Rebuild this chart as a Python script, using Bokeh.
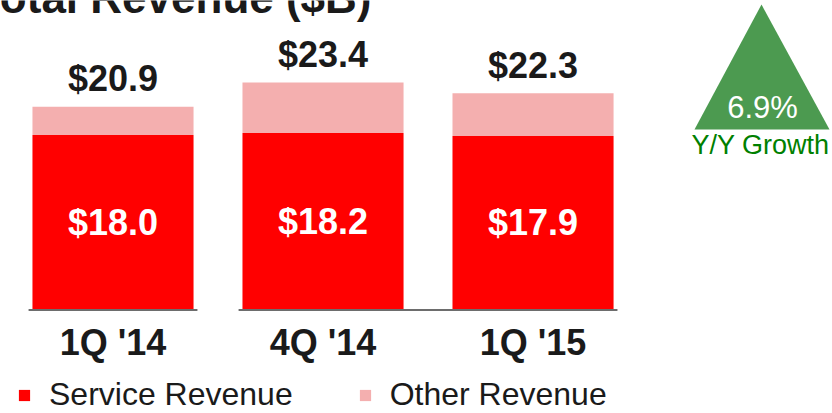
from bokeh.plotting import figure
from bokeh.models import (Range1d, Label, Legend, LegendItem, PolyAnnotation,
                          ColumnDataSource)
from bokeh.core.properties import value
from bokeh.embed import file_html
from bokeh.resources import INLINE

# ---- data ----
categories = ["1Q '14", "4Q '14", "1Q '15"]
service = [18.0, 18.2, 17.9]
other = [2.9, 5.2, 4.4]
total = [20.9, 23.4, 22.3]
series_names = ["Service Revenue", "Other Revenue"]
title_text = "Total Revenue ($B)"
growth_text = "6.9%"
growth_caption = "Y/Y Growth"

# ---- styles ----
RED = "#FF0000"
PINK = "#F4AFAF"
DARK = "#1a1a1a"
GREEN_FILL = "#4C9A50"
GREEN_TEXT = "#008000"
FONT = "Liberation Sans"

W, H = 832, 413
idx = list(range(len(categories)))
tops = [s + o for s, o in zip(service, other)]

src = ColumnDataSource(dict(
    x=idx, service=service, tops=tops, total=total, cat=categories,
    mid=[s / 2 for s in service],
    total_lbl=["$%.1f" % t for t in total],
    serv_lbl=["$%.1f" % s for s in service],
    zero=[0] * len(idx),
))

p = figure(width=W, height=H, output_backend="svg", toolbar_location=None,
           x_range=Range1d(-0.5357, 3.426), y_range=Range1d(-10.65, 31.84),
           x_axis_location=None, y_axis_location=None, min_border=0,
           outline_line_color=None, background_fill_color="white",
           border_fill_color="white")
p.xgrid.visible = False
p.ygrid.visible = False

bw = 0.767
r1 = p.vbar(x="x", bottom=0, top="service", width=bw, source=src,
            fill_color=RED, line_color=None)
r2 = p.vbar(x="x", bottom="service", top="tops", width=bw, source=src,
            fill_color=PINK, line_color=None)

# baseline segments
half = 0.402
p.segment(x0=[idx[0] - half, idx[1] - half], y0=[0, 0],
          x1=[idx[0] + half, idx[-1] + half], y1=[0, 0],
          line_color="#6d6d6d", line_width=2)

# total labels
p.text(x="x", y="total", text="total_lbl", source=src, y_offset=-28,
       text_align="center", text_baseline="alphabetic",
       text_font=value(FONT), text_font_style="bold",
       text_font_size="36px", text_color=DARK)
# service labels
p.text(x="x", y="mid", text="serv_lbl", source=src, y_offset=0,
       text_align="center", text_baseline="alphabetic",
       text_font=value(FONT), text_font_style="bold",
       text_font_size="36px", text_color="white")
# category labels
p.text(x="x", y="zero", text="cat", source=src, y_offset=33,
       text_align="center", text_baseline="alphabetic",
       text_font=value(FONT), text_font_style="bold",
       text_font_size="36px", text_color=DARK)

# title (cut off at the top like the original)
p.add_layout(Label(x=371, y=H + 3, x_units="screen", y_units="screen",
                   text=title_text, text_align="right",
                   text_baseline="alphabetic", text_font=FONT,
                   text_font_style="bold", text_font_size="44px",
                   text_color=DARK))

# growth triangle
p.add_layout(PolyAnnotation(xs=[694, 761, 829], ys=[H - 129, H - 4, H - 129],
                            xs_units="screen", ys_units="screen",
                            fill_color=GREEN_FILL, fill_alpha=1,
                            line_color=None))
p.add_layout(Label(x=762, y=H - 119 + 12, x_units="screen", y_units="screen",
                   text=growth_text, text_align="center",
                   text_baseline="alphabetic", text_font=FONT,
                   text_font_size="31px", text_color="white"))
p.add_layout(Label(x=760, y=H - 155 + 10.5, x_units="screen", y_units="screen",
                   text=growth_caption, text_align="center",
                   text_baseline="alphabetic", text_font=FONT,
                   text_font_size="27px", text_color=GREEN_TEXT))

legend = Legend(items=[LegendItem(label=series_names[0], renderers=[r1]),
                       LegendItem(label=series_names[1], renderers=[r2])],
                orientation="horizontal", location=(17, 0),
                border_line_color=None, background_fill_alpha=0,
                padding=0, margin=0, spacing=65,
                glyph_width=14, glyph_height=14, label_standoff=18,
                label_text_font=FONT, label_text_font_size="32px",
                label_text_color=DARK)
p.add_layout(legend)

open("out.html", "w").write(file_html(p, INLINE))
